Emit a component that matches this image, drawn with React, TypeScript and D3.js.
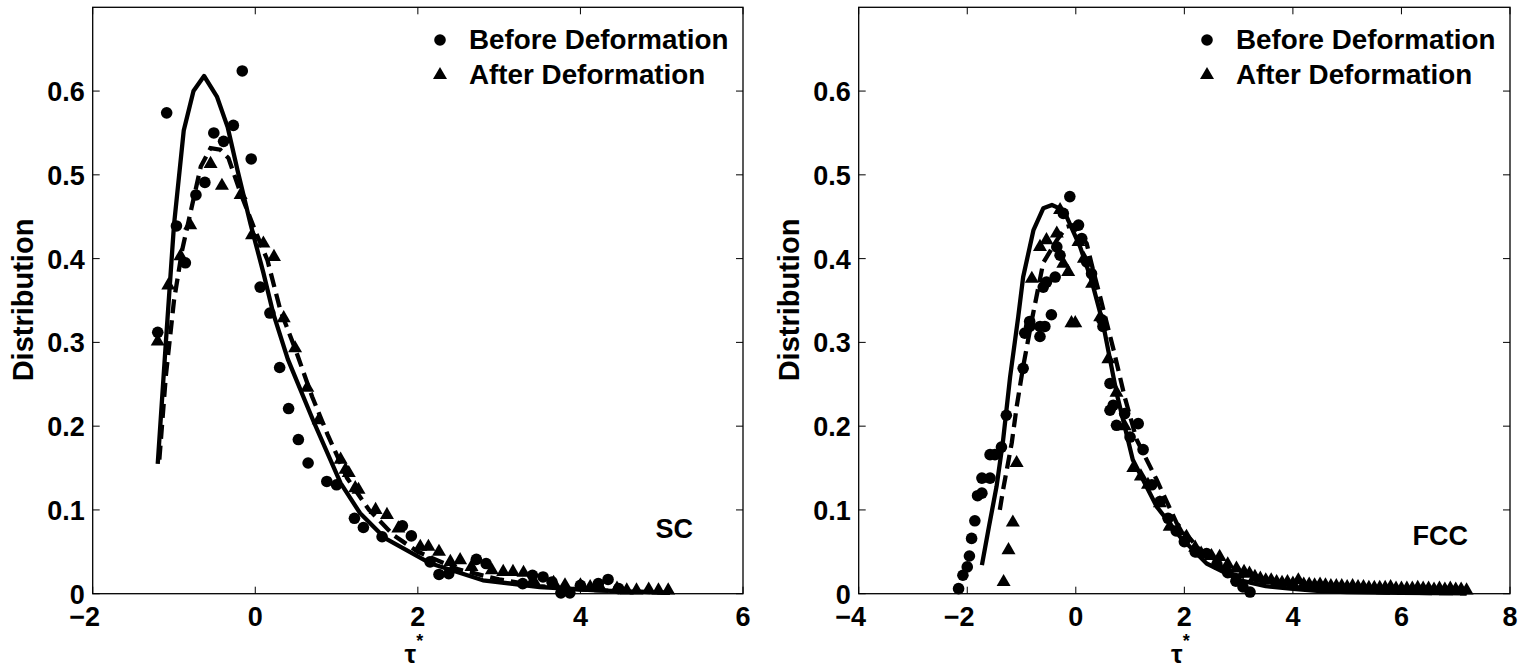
import React from 'react';
import * as d3 from 'd3';

// SC panel: fitted curves (solid = before, dashed = after) and sampled points
const scFitBefore: [number, number][] = [
  [-1.2, 0.155], [-1.1, 0.3], [-1.0, 0.44], [-0.88, 0.553], [-0.76, 0.6], [-0.63, 0.618],
  [-0.47, 0.593], [-0.34, 0.557], [-0.22, 0.506], [-0.06, 0.442], [0.1, 0.383], [0.22, 0.335],
  [0.4, 0.28], [0.72, 0.205], [1.05, 0.132], [1.29, 0.096], [1.6, 0.066], [2.16, 0.036],
  [2.8, 0.016], [3.5, 0.008], [4.2, 0.004], [5.1, 0.001],
];
const scFitAfter: [number, number][] = [
  [-1.18, 0.16], [-1.1, 0.26], [-1.0, 0.35], [-0.9, 0.41], [-0.79, 0.458], [-0.67, 0.51],
  [-0.55, 0.532], [-0.43, 0.53], [-0.33, 0.52], [-0.18, 0.478], [-0.02, 0.438], [0.15, 0.398],
  [0.31, 0.338], [0.5, 0.29], [0.7, 0.235], [0.89, 0.19], [1.13, 0.138], [1.4, 0.1],
  [1.7, 0.07], [2.0, 0.05], [2.5, 0.029], [3.0, 0.017], [3.5, 0.009], [4.0, 0.005],
  [4.5, 0.003], [5.1, 0.001],
];
const scBefore: [number, number][] = [
  [-1.2, 0.312], [-1.09, 0.574], [-0.97, 0.439], [-0.86, 0.395], [-0.73, 0.476], [-0.62, 0.491],
  [-0.51, 0.55], [-0.39, 0.54], [-0.27, 0.559], [-0.16, 0.624], [-0.05, 0.519], [0.06, 0.366],
  [0.18, 0.335], [0.3, 0.27], [0.41, 0.221], [0.53, 0.184], [0.65, 0.156], [0.88, 0.134],
  [1.0, 0.13], [1.22, 0.09], [1.33, 0.079], [1.56, 0.068], [1.81, 0.081], [1.92, 0.069],
  [2.15, 0.038], [2.26, 0.023], [2.38, 0.024], [2.72, 0.041], [2.84, 0.036], [3.29, 0.012],
  [3.41, 0.022], [3.54, 0.02], [3.65, 0.014], [3.76, 0.001], [3.87, 0.001], [4.0, 0.01],
  [4.22, 0.012], [4.34, 0.017], [4.47, 0.006],
];
const scAfter: [number, number][] = [
  [-1.2, 0.301], [-1.07, 0.368], [-0.92, 0.403], [-0.8, 0.44], [-0.55, 0.513], [-0.41, 0.487],
  [-0.18, 0.476], [-0.04, 0.428], [0.1, 0.418], [0.23, 0.402], [0.35, 0.329], [0.49, 0.293],
  [0.64, 0.246], [0.78, 0.207], [1.05, 0.16], [1.11, 0.148], [1.15, 0.144], [1.23, 0.126],
  [1.27, 0.124], [1.48, 0.1], [1.62, 0.094], [1.76, 0.078], [2.03, 0.056], [2.13, 0.056],
  [2.26, 0.05], [2.4, 0.038], [2.52, 0.04], [2.66, 0.032], [2.91, 0.028], [3.05, 0.026],
  [3.17, 0.026], [3.3, 0.025], [3.42, 0.016], [3.67, 0.013], [3.81, 0.01], [4.0, 0.01],
  [4.12, 0.008], [4.24, 0.008], [4.45, 0.006], [4.57, 0.004], [4.69, 0.004], [4.84, 0.005],
  [4.96, 0.004], [5.08, 0.004],
];

// FCC panel
const fccFitBefore: [number, number][] = [
  [-1.73, 0.034], [-1.6, 0.08], [-1.46, 0.128], [-1.34, 0.183], [-1.21, 0.259], [-1.06, 0.331],
  [-0.97, 0.378], [-0.78, 0.434], [-0.6, 0.46], [-0.44, 0.464], [-0.3, 0.46], [-0.17, 0.45],
  [0.08, 0.414], [0.29, 0.374], [0.5, 0.323], [0.75, 0.24], [1.05, 0.16], [1.49, 0.104],
  [1.92, 0.068], [2.41, 0.036], [3.03, 0.016], [3.5, 0.009], [3.95, 0.006], [4.5, 0.003],
  [5.0, 0.002], [6.0, 0.001], [7.2, 0.0005],
];
const fccFitAfter: [number, number][] = [
  [-1.4, 0.1], [-1.34, 0.124], [-1.18, 0.18], [-1.09, 0.223], [-0.97, 0.271], [-0.8, 0.33],
  [-0.6, 0.395], [-0.35, 0.422], [-0.17, 0.438], [-0.05, 0.44], [0.2, 0.418], [0.32, 0.386],
  [0.45, 0.354], [0.7, 0.29], [0.9, 0.235], [1.12, 0.184], [1.49, 0.136], [1.86, 0.084],
  [2.29, 0.052], [2.84, 0.024], [3.63, 0.012], [4.2, 0.006], [5.0, 0.003], [6.0, 0.001],
  [7.2, 0.0005],
];
const fccBefore: [number, number][] = [
  [-2.16, 0.006], [-2.08, 0.022], [-2.0, 0.032], [-1.96, 0.045], [-1.92, 0.066], [-1.86, 0.087],
  [-1.81, 0.117], [-1.73, 0.12], [-1.73, 0.138], [-1.58, 0.138], [-1.58, 0.166], [-1.49, 0.166],
  [-1.37, 0.175], [-1.28, 0.213], [-0.97, 0.269], [-0.94, 0.311], [-0.85, 0.319], [-0.85, 0.325],
  [-0.66, 0.307], [-0.66, 0.319], [-0.57, 0.319], [-0.45, 0.333], [-0.6, 0.366], [-0.54, 0.372],
  [-0.38, 0.378], [-0.35, 0.414], [-0.29, 0.404], [-0.23, 0.454], [-0.11, 0.474], [0.05, 0.44],
  [0.11, 0.424], [0.2, 0.396], [0.29, 0.382], [0.48, 0.327], [0.5, 0.319], [0.63, 0.251],
  [0.63, 0.219], [0.69, 0.225], [0.75, 0.201], [0.9, 0.215], [1.0, 0.187], [1.15, 0.203],
  [1.24, 0.172], [1.4, 0.13], [1.55, 0.11], [1.7, 0.09], [1.85, 0.075], [2.0, 0.062],
  [2.2, 0.05], [2.41, 0.048], [2.6, 0.035], [2.8, 0.025], [2.95, 0.015], [3.08, 0.008],
  [3.21, 0.002],
];
const fccAfter: [number, number][] = [
  [-1.33, 0.014], [-1.24, 0.052], [-1.16, 0.085], [-1.09, 0.156], [-0.81, 0.376], [-0.66, 0.414],
  [-0.54, 0.422], [-0.35, 0.43], [-0.29, 0.458], [-0.23, 0.394], [-0.14, 0.384], [-0.08, 0.323],
  [-0.01, 0.323], [0.05, 0.42], [0.15, 0.4], [0.3, 0.37], [0.45, 0.33], [0.6, 0.28],
  [0.75, 0.24], [0.9, 0.2], [1.06, 0.15], [1.2, 0.14], [1.33, 0.13], [1.55, 0.108],
  [1.73, 0.08], [1.9, 0.075], [2.04, 0.068], [2.2, 0.055], [2.31, 0.048], [2.5, 0.045],
  [2.65, 0.044], [2.8, 0.035], [2.96, 0.03], [3.1, 0.026], [3.2, 0.024], [3.3, 0.02],
  [3.4, 0.018], [3.5, 0.016], [3.6, 0.016], [3.7, 0.014], [3.8, 0.013], [3.9, 0.014],
  [4.0, 0.012], [4.1, 0.016], [4.2, 0.011], [4.3, 0.011], [4.4, 0.01], [4.5, 0.011],
  [4.6, 0.01], [4.7, 0.009], [4.8, 0.009], [4.9, 0.009], [5.0, 0.008], [5.1, 0.009],
  [5.2, 0.008], [5.3, 0.008], [5.4, 0.007], [5.5, 0.007], [5.6, 0.007], [5.7, 0.007],
  [5.8, 0.008], [5.9, 0.006], [6.0, 0.006], [6.1, 0.006], [6.2, 0.006], [6.3, 0.007],
  [6.4, 0.006], [6.5, 0.006], [6.6, 0.005], [6.7, 0.006], [6.8, 0.005], [6.9, 0.006],
  [7.0, 0.005], [7.1, 0.005], [7.2, 0.004],
];

const yTicks = [0, 0.1, 0.2, 0.3, 0.4, 0.5, 0.6];
const scXTicks = [-2, 0, 2, 4, 6];
const fccXTicks = [-4, -2, 0, 2, 4, 6, 8];
const legendLabels = ['Before Deformation', 'After Deformation'];

const FONT = '"Liberation Sans", Arial, Helvetica, sans-serif';
const W = 1520;
const H = 669;
const TOP = 7.3;
const BOTTOM = 593.7;
const TICK = 7;

const tri = d3.symbol().type(d3.symbolTriangle).size(85)();

function fmt(v: number) {
  if (v === 0) return '0';
  if (v < 0 && Number.isInteger(v)) return '\u2212' + Math.abs(v);
  return String(v);
}

function Panel({ left, right, domain, xTicks, fitBefore, fitAfter, before, after, label, labelY, labelRight }: any) {
  const x = d3.scaleLinear().domain(domain).range([left, right]);
  const y = d3.scaleLinear().domain([0, 0.7]).range([BOTTOM, TOP]);
  const line = d3.line<[number, number]>().x(d => x(d[0])).y(d => y(d[1]));
  const cx = (left + right) / 2;
  const legX = right - 303;

  return (
    <g fontFamily={FONT} fontWeight="bold">
      {/* markers */}
      {before.map((d: [number, number], i: number) => (
        <circle key={'b' + i} cx={x(d[0])} cy={y(d[1])} r={5.8} fill="#000" />
      ))}
      {after.map((d: [number, number], i: number) => (
        <path key={'a' + i} d={tri} transform={`translate(${x(d[0])},${y(d[1])})`} fill="#000" />
      ))}
      <path d={line(fitBefore) || ''} fill="none" stroke="#000" strokeWidth={4.3} strokeLinejoin="round" />
      <path d={line(fitAfter) || ''} fill="none" stroke="#000" strokeWidth={4.3} strokeDasharray="14,7" />

      {/* frame */}
      <rect x={left} y={TOP} width={right - left} height={BOTTOM - TOP} fill="none" stroke="#000" strokeWidth={1.3} />
      {xTicks.map((t: number) => (
        <g key={'x' + t}>
          <line x1={x(t)} x2={x(t)} y1={BOTTOM} y2={BOTTOM - TICK} stroke="#000" strokeWidth={1} />
          <line x1={x(t)} x2={x(t)} y1={TOP} y2={TOP + TICK} stroke="#000" strokeWidth={1} />
          <text x={x(t) - (t < 0 ? 8 : 0)} y={626} textAnchor="middle" fontSize={27}>{fmt(t)}</text>
        </g>
      ))}
      {yTicks.map(t => (
        <g key={'y' + t}>
          <line x1={left} x2={left + TICK} y1={y(t)} y2={y(t)} stroke="#000" strokeWidth={1} />
          <line x1={right} x2={right - TICK} y1={y(t)} y2={y(t)} stroke="#000" strokeWidth={1} />
          <text x={left - 8} y={y(t) + 10} textAnchor="end" fontSize={27}>{fmt(t)}</text>
        </g>
      ))}

      {/* axis labels */}
      <text transform={`translate(${left - 60},300) rotate(-90)`} textAnchor="middle" fontSize={29}>Distribution</text>
      <text x={cx - 4} y={663} textAnchor="middle" fontSize={26}>
        τ<tspan dy={-16} fontSize={18}>*</tspan>
      </text>

      {/* legend */}
      <circle cx={legX} cy={40} r={5.8} fill="#000" />
      <path d={tri} transform={`translate(${legX},${75})`} fill="#000" />
      <text x={legX + 29} y={49} fontSize={27.8}>{legendLabels[0]}</text>
      <text x={legX + 29} y={84} fontSize={27.8}>{legendLabels[1]}</text>

      <text x={right - labelRight} y={labelY} textAnchor="end" fontSize={27}>{label}</text>
    </g>
  );
}

export default function App() {
  return (
    <svg width={W} height={H} style={{ position: 'absolute', left: 0, top: 0, background: '#fff' }}>
      <rect width={W} height={H} fill="#fff" />
      <Panel left={92.7} right={743} domain={[-2, 6]} xTicks={scXTicks}
        fitBefore={scFitBefore} fitAfter={scFitAfter} before={scBefore} after={scAfter}
        label="SC" labelY={538} labelRight={50} />
      <Panel left={858.7} right={1510} domain={[-4, 8]} xTicks={fccXTicks}
        fitBefore={fccFitBefore} fitAfter={fccFitAfter} before={fccBefore} after={fccAfter}
        label="FCC" labelY={545} labelRight={42} />
    </svg>
  );
}
